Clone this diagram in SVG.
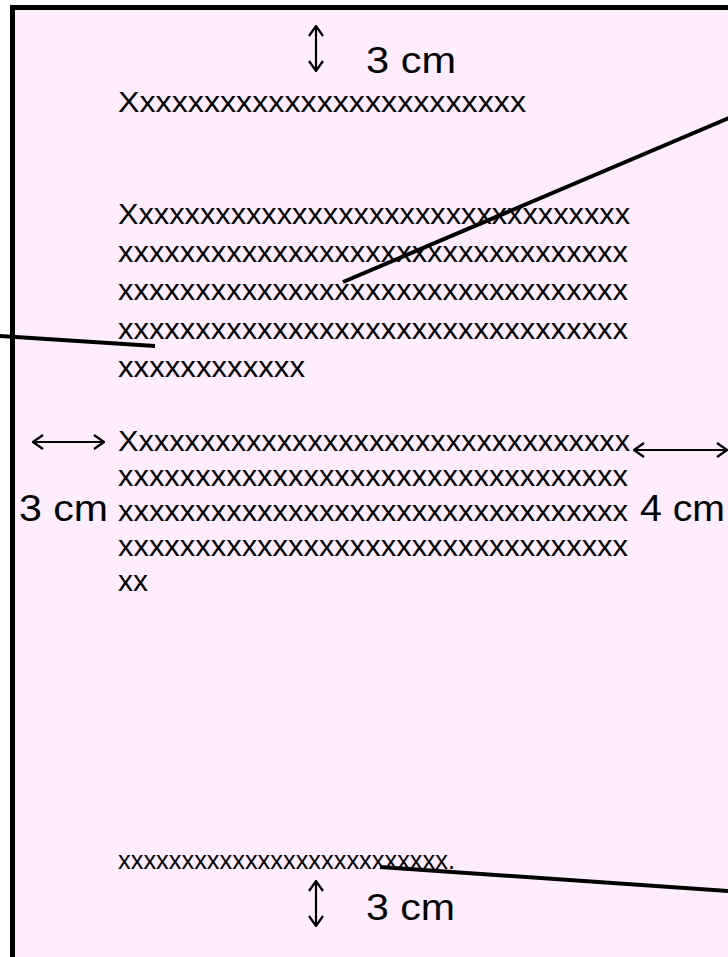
<svg xmlns="http://www.w3.org/2000/svg" width="728" height="957" viewBox="0 0 728 957">
<defs>
<style>
.t{font-family:"Liberation Sans",Arial,sans-serif;font-size:30px;fill:#000}
.b{font-family:"Liberation Sans",Arial,sans-serif;font-size:37px;fill:#000}
.s{font-family:"Liberation Sans",Arial,sans-serif;font-size:25px;fill:#000}
.dim{stroke:#000;stroke-width:2.2;fill:none}
.con{stroke:#000;stroke-width:4;fill:none}
</style>
<marker id="ah" viewBox="0 0 12 16" refX="11" refY="8" markerWidth="12" markerHeight="16" markerUnits="userSpaceOnUse" orient="auto-start-reverse">
<path d="M1,1 L11,8 L1,15" fill="none" stroke="#000" stroke-width="2.2"/>
</marker>
</defs>
<rect x="0" y="0" width="728" height="957" fill="#ffffff"/>
<rect id="page" x="12.5" y="7.5" width="730" height="960" fill="#fdedfd" stroke="#000" stroke-width="5"/>
<g id="top-margin">
<line class="dim" x1="316" y1="26" x2="316" y2="71" marker-start="url(#ah)" marker-end="url(#ah)"/>
<text class="b" x="366" y="73" textLength="90" lengthAdjust="spacingAndGlyphs">3 cm</text>
</g>
<g id="title">
<text class="t" x="118" y="112" textLength="408" lengthAdjust="spacingAndGlyphs">Xxxxxxxxxxxxxxxxxxxxxxxxx</text>
</g>
<g id="para1">
<text class="t" x="118" y="224" textLength="512" lengthAdjust="spacingAndGlyphs">Xxxxxxxxxxxxxxxxxxxxxxxxxxxxxxxxx</text>
<text class="t" x="118" y="262" textLength="510" lengthAdjust="spacingAndGlyphs">xxxxxxxxxxxxxxxxxxxxxxxxxxxxxxxxx</text>
<text class="t" x="118" y="300" textLength="510" lengthAdjust="spacingAndGlyphs">xxxxxxxxxxxxxxxxxxxxxxxxxxxxxxxxx</text>
<text class="t" x="118" y="339" textLength="510" lengthAdjust="spacingAndGlyphs">xxxxxxxxxxxxxxxxxxxxxxxxxxxxxxxxx</text>
<text class="t" x="118" y="377" textLength="187" lengthAdjust="spacingAndGlyphs">xxxxxxxxxxxx</text>
</g>
<g id="para2">
<text class="t" x="118" y="451" textLength="512" lengthAdjust="spacingAndGlyphs">Xxxxxxxxxxxxxxxxxxxxxxxxxxxxxxxxx</text>
<text class="t" x="118" y="486" textLength="510" lengthAdjust="spacingAndGlyphs">xxxxxxxxxxxxxxxxxxxxxxxxxxxxxxxxx</text>
<text class="t" x="118" y="521" textLength="510" lengthAdjust="spacingAndGlyphs">xxxxxxxxxxxxxxxxxxxxxxxxxxxxxxxxx</text>
<text class="t" x="118" y="556" textLength="510" lengthAdjust="spacingAndGlyphs">xxxxxxxxxxxxxxxxxxxxxxxxxxxxxxxxx</text>
<text class="t" x="118" y="591" textLength="30" lengthAdjust="spacingAndGlyphs">xx</text>
</g>
<g id="left-margin">
<line class="dim" x1="33" y1="442" x2="104" y2="442" marker-start="url(#ah)" marker-end="url(#ah)"/>
<text class="b" x="19" y="521" textLength="89" lengthAdjust="spacingAndGlyphs">3 cm</text>
</g>
<g id="right-margin">
<line class="dim" x1="634" y1="450" x2="727" y2="450" stroke-width="3" marker-start="url(#ah)" marker-end="url(#ah)"/>
<text class="b" x="640" y="521" textLength="85" lengthAdjust="spacingAndGlyphs">4 cm</text>
</g>
<g id="footer">
<text class="s" x="118" y="869" textLength="337" lengthAdjust="spacingAndGlyphs">xxxxxxxxxxxxxxxxxxxxxxxxxx.</text>
</g>
<g id="bottom-margin">
<line class="dim" x1="316" y1="881" x2="316" y2="926" marker-start="url(#ah)" marker-end="url(#ah)"/>
<text class="b" x="366" y="920" textLength="89" lengthAdjust="spacingAndGlyphs">3 cm</text>
</g>
<g id="connectors">
<line class="con" x1="729" y1="118" x2="343" y2="282"/>
<line class="con" x1="0" y1="336" x2="155" y2="346"/>
<line class="con" x1="380" y1="867" x2="729" y2="891"/>
</g>
</svg>
